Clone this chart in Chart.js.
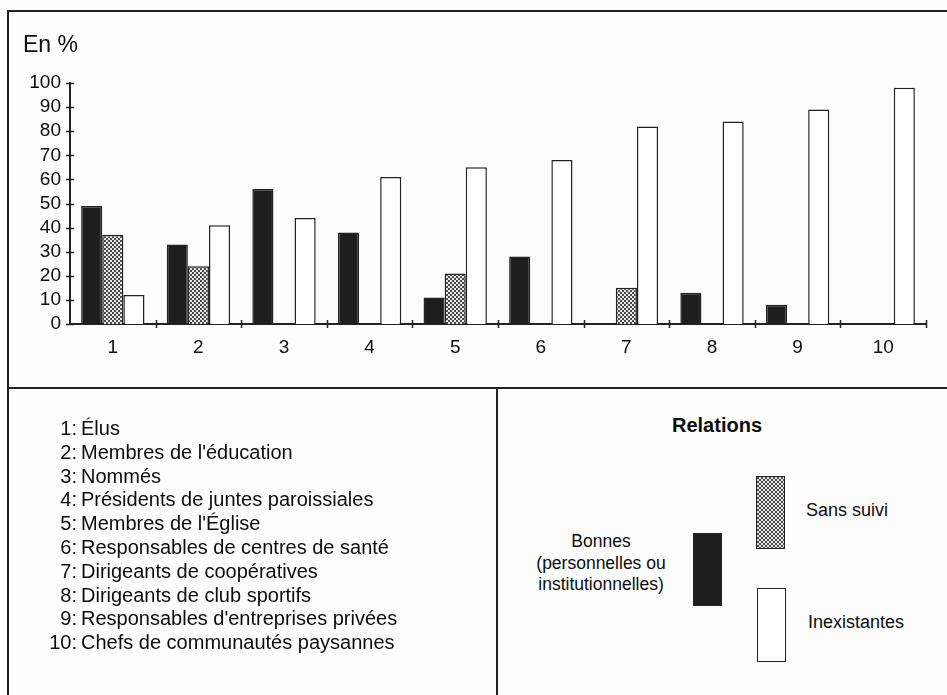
<!DOCTYPE html>
<html lang="fr">
<head>
<meta charset="utf-8" />
<title>Relations — En %</title>
<script src="https://cdn.jsdelivr.net/npm/chart.js@4.4.1/dist/chart.umd.min.js"></script>
<style>
  html, body { margin: 0; padding: 0; background: #fcfcfc; }
  body { width: 947px; height: 695px; position: relative; overflow: hidden;
         font-family: 'Liberation Sans', Arial, sans-serif; color: #0d0d0d; }
  #c { position: absolute; left: 0; top: 0; }
  .line { position: absolute; background: #222; }
  .unit { position: absolute; left: 23px; top: 31px; font-size: 23px; }
  .names { position: absolute; left: 0; top: 417px; font-size: 20px; line-height: 23.8px; }
  .names div { display: flex; white-space: nowrap; }
  .names .n { width: 77px; text-align: right; }
  .names .t { margin-left: 4px; }
  .rel { position: absolute; font-size: 18px; white-space: nowrap; }
  .sw { position: absolute; border: 1.5px solid #222; box-sizing: border-box; }
</style>
</head>
<body>
<canvas id="c" width="947" height="388"></canvas>

<div class="line" style="left:8px;top:10px;width:939px;height:2px"></div>
<div class="line" style="left:7px;top:10px;width:2px;height:685px"></div>
<div class="line" style="left:8px;top:387px;width:939px;height:2px"></div>
<div class="line" style="left:496px;top:388px;width:2px;height:307px"></div>

<div class="unit">En %</div>

<div class="names" id="names"></div>

<div class="rel" style="left:717px;top:414px;transform:translateX(-50%);font-weight:bold;font-size:20px">Relations</div>
<div class="rel" style="left:601px;top:531px;transform:translateX(-50%);text-align:center;line-height:21.5px;font-size:17.5px">Bonnes<br>(personnelles ou<br>institutionnelles)</div>
<div class="rel" style="left:806px;top:500px">Sans suivi</div>
<div class="rel" style="left:808px;top:612px">Inexistantes</div>

<div class="sw" id="swBlack" style="left:693px;top:533px;width:29px;height:73px;background:#1e1e1e"></div>
<div class="sw" id="swGray" style="left:756px;top:476px;width:29px;height:73px"></div>
<div class="sw" id="swWhite" style="left:757px;top:588px;width:29px;height:74px;background:#fff"></div>

<script>
// catégories 1..10 et libellés
const categories = ['1', '2', '3', '4', '5', '6', '7', '8', '9', '10'];
const categoryNames = [
  'Élus',
  "Membres de l'éducation",
  'Nommés',
  'Présidents de juntes paroissiales',
  "Membres de l'Église",
  'Responsables de centres de santé',
  'Dirigeants de coopératives',
  'Dirigeants de club sportifs',
  "Responsables d'entreprises privées",
  'Chefs de communautés paysannes',
];

// valeurs en % (null = pas de barre)
const bonnes = [49, 33, 56, 38, 11, 28, null, 13, 8, null];
const sansSuivi = [37, 24, null, null, 21, null, 15, null, null, null];
const inexistantes = [12, 41, 44, 61, 65, 68, 82, 84, 89, 98];

const yTicks = [0, 10, 20, 30, 40, 50, 60, 70, 80, 90, 100];

// légende texte à gauche
document.getElementById('names').innerHTML = categoryNames
  .map((t, i) => `<div><span class="n">${categories[i]}:</span><span class="t">${t}</span></div>`)
  .join('');

// trame pointillée pour "Sans suivi"
function makeDots() {
  const p = document.createElement('canvas');
  p.width = 4; p.height = 4;
  const g = p.getContext('2d');
  g.fillStyle = '#e6e6e6'; g.fillRect(0, 0, 4, 4);
  g.fillStyle = '#4a4a4a';
  g.fillRect(0, 0, 2, 2); g.fillRect(2, 2, 2, 2);
  return p;
}
const dots = makeDots();
const ctx = document.getElementById('c').getContext('2d');
const dotPattern = ctx.createPattern(dots, 'repeat');
document.getElementById('swGray').style.background = `url(${dots.toDataURL()})`;

// petits traits qui traversent les axes
const crossTicks = {
  id: 'crossTicks',
  afterDraw(chart) {
    const { ctx: g, scales: { x, y } } = chart;
    g.save();
    g.strokeStyle = '#222';
    g.lineWidth = 1.5;
    g.beginPath();
    for (const v of yTicks) {
      const py = Math.round(y.getPixelForValue(v)) + 0.5;
      g.moveTo(x.left - 4, py); g.lineTo(x.left + 4, py);
    }
    const w = (x.right - x.left) / categories.length;
    for (let i = 1; i <= categories.length; i++) {
      const px = Math.round(x.left + i * w) + 0.5;
      g.moveTo(px, y.bottom - 4); g.lineTo(px, y.bottom + 4);
    }
    g.stroke();
    g.restore();
  },
};

const tickFont = { family: "'Liberation Sans', Arial, sans-serif", size: 19 };

new Chart(ctx, {
  type: 'bar',
  data: {
    labels: categories,
    datasets: [
      { label: 'Bonnes (personnelles ou institutionnelles)', data: bonnes, backgroundColor: '#1e1e1e' },
      { label: 'Sans suivi', data: sansSuivi, backgroundColor: dotPattern },
      { label: 'Inexistantes', data: inexistantes, backgroundColor: '#ffffff' },
    ],
  },
  options: {
    responsive: false,
    animation: false,
    devicePixelRatio: 1,
    layout: { padding: { left: 0, top: 83, right: 21, bottom: 0 } },
    datasets: {
      bar: { categoryPercentage: 0.74, barPercentage: 1.0, borderWidth: 1.5, borderColor: '#222' },
    },
    plugins: { legend: { display: false }, tooltip: { enabled: false } },
    scales: {
      x: {
        grid: { display: false, drawTicks: false },
        border: { display: true, color: '#222', width: 2 },
        ticks: { font: tickFont, color: '#0d0d0d', padding: 12, autoSkip: false, maxRotation: 0 },
        afterFit(s) { s.height = 64; },
      },
      y: {
        min: 0,
        max: 100,
        afterBuildTicks(s) { s.ticks = yTicks.map((v) => ({ value: v })); },
        grid: { display: false, drawTicks: false },
        border: { display: true, color: '#222', width: 2 },
        ticks: { stepSize: 10, autoSkip: false, font: tickFont, color: '#0d0d0d', padding: 9 },
        afterFit(s) { s.width = 70; },
      },
    },
  },
  plugins: [crossTicks],
});
</script>
</body>
</html>
